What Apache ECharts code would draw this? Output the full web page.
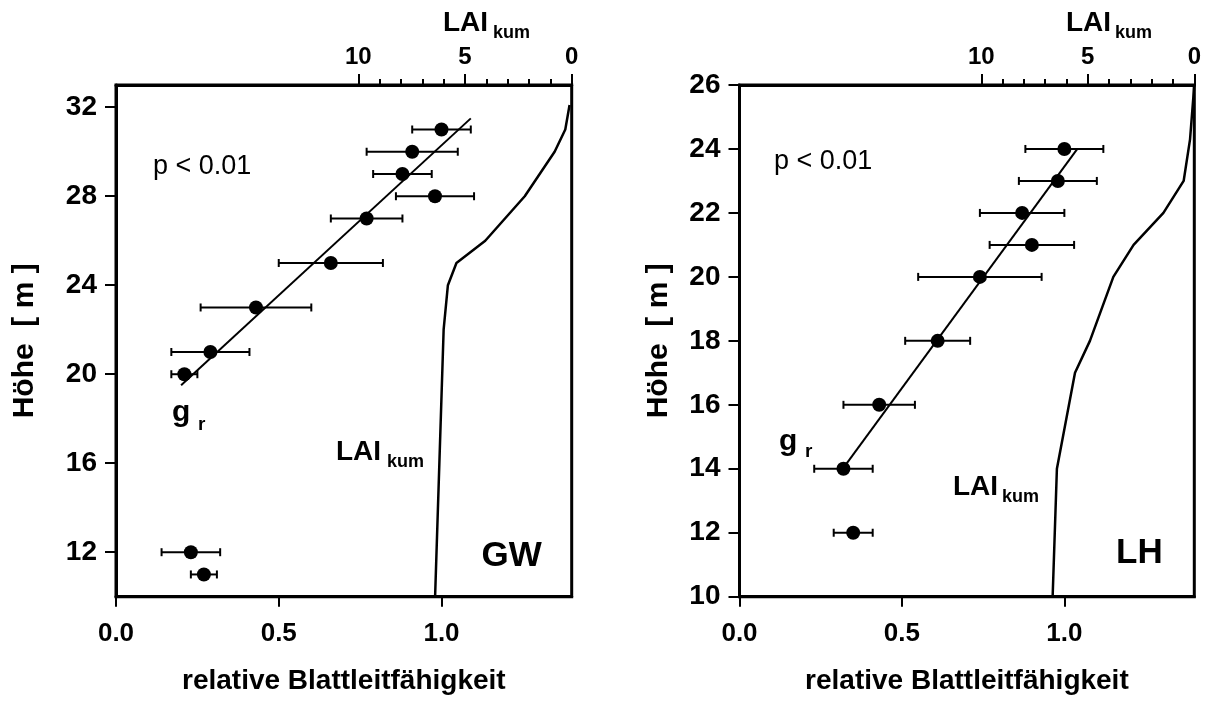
<!DOCTYPE html>
<html><head><meta charset="utf-8">
<script src="https://cdn.jsdelivr.net/npm/echarts@6/dist/echarts.min.js"></script>
<style>html,body{margin:0;padding:0;background:#fff}#c{width:1206px;height:703px}</style>
</head><body><div id="c"></div>
<script>
// ---- Data: panel GW ----
const gwHeight = [31, 30, 29, 28, 27, 25, 23, 21, 20, 12, 11];
const gwMean   = [1.00, 0.91, 0.88, 0.98, 0.77, 0.66, 0.43, 0.29, 0.21, 0.23, 0.27];
const gwLow    = [0.91, 0.77, 0.79, 0.86, 0.66, 0.50, 0.26, 0.17, 0.17, 0.14, 0.23];
const gwHigh   = [1.09, 1.05, 0.97, 1.10, 0.88, 0.82, 0.60, 0.41, 0.25, 0.32, 0.31];
const gwFitX   = [0.20, 1.09];
const gwFitY   = [19.5, 31.5];
const gwLaiHeight = [32.1, 31, 30, 28, 26, 25, 24, 22, 10];
const gwLai       = [0.1, 0.3, 0.8, 2.2, 4.05, 5.4, 5.8, 6.0, 6.4];

// ---- Data: panel LH ----
const lhHeight = [24, 23, 22, 21, 20, 18, 16, 14, 12];
const lhMean   = [1.00, 0.98, 0.87, 0.90, 0.74, 0.61, 0.43, 0.32, 0.35];
const lhLow    = [0.88, 0.86, 0.74, 0.77, 0.55, 0.51, 0.32, 0.23, 0.29];
const lhHigh   = [1.12, 1.10, 1.00, 1.03, 0.93, 0.71, 0.54, 0.41, 0.41];
const lhFitX   = [0.325, 1.04];
const lhFitY   = [14.1, 24.0];
const lhLaiHeight = [26, 24.3, 23, 22, 21, 20, 18, 17, 14, 10];
const lhLai       = [0, 0.2, 0.5, 1.45, 2.85, 3.8, 4.9, 5.6, 6.45, 6.65];

// ---- Tick labels ----
const relTicks = [0, 0.5, 1.0];
const laiMajorTicks = [0, 5, 10];
const laiMinorTicks = [1, 2, 3, 4, 6, 7, 8, 9];
const gwHeightTicks = [12, 16, 20, 24, 28, 32];
const lhHeightTicks = [10, 12, 14, 16, 18, 20, 22, 24, 26];

const FF = "'Liberation Sans', Arial, Helvetica, sans-serif";
const BLACK = '#000';

const pair = (xs, ys) => xs.map((x, i) => [x, ys[i]]);

function errSeries(xi, yi, h, lo, hi) {
  return {
    type: 'custom', xAxisIndex: xi, yAxisIndex: yi, silent: true, z: 3,
    data: h.map((v, i) => [lo[i], hi[i], v]),
    encode: { x: [0, 1], y: 2 },
    renderItem(params, api) {
      const a = api.coord([api.value(0), api.value(2)]);
      const b = api.coord([api.value(1), api.value(2)]);
      const c = 4;
      const st = { stroke: BLACK, lineWidth: 2 };
      return { type: 'group', children: [
        { type: 'line', shape: { x1: a[0], y1: a[1], x2: b[0], y2: b[1] }, style: st },
        { type: 'line', shape: { x1: a[0], y1: a[1] - c, x2: a[0], y2: a[1] + c }, style: st },
        { type: 'line', shape: { x1: b[0], y1: b[1] - c, x2: b[0], y2: b[1] + c }, style: st }
      ]};
    }
  };
}

const axisLine = { show: true, onZero: false, lineStyle: { color: BLACK, width: 3 } };

function relAxis(gi) {
  return {
    type: 'value', gridIndex: gi, position: 'bottom', min: 0, max: 1.4,
    axisLine: axisLine,
    axisTick: { show: true, inside: false, length: 10, customValues: relTicks, lineStyle: { color: BLACK, width: 2 } },
    axisLabel: { customValues: relTicks, margin: 24, color: BLACK, fontFamily: FF, fontWeight: 'bold', fontSize: 26,
      formatter: v => v.toFixed(1) },
    splitLine: { show: false },
    name: 'relative Blattleitfähigkeit', nameLocation: 'middle', nameGap: 71,
    nameTextStyle: { color: BLACK, fontFamily: FF, fontWeight: 'bold', fontSize: 28 }
  };
}
function laiAxis(gi) {
  return {
    type: 'value', gridIndex: gi, position: 'top', min: 0, max: 21.35, inverse: true,
    axisLine: axisLine,
    axisTick: { show: true, length: 11, customValues: laiMajorTicks, lineStyle: { color: BLACK, width: 2 } },
    axisLabel: { customValues: laiMajorTicks, margin: 16, color: BLACK, fontFamily: FF, fontWeight: 'bold', fontSize: 24 },
    splitLine: { show: false }
  };
}
function laiMinorAxis(gi) {
  return {
    type: 'value', gridIndex: gi, position: 'top', min: 0, max: 21.35, inverse: true,
    axisLine: { show: false, onZero: false },
    axisTick: { show: true, length: 6, customValues: laiMinorTicks, lineStyle: { color: BLACK, width: 2 } },
    axisLabel: { show: false }, splitLine: { show: false }
  };
}
function heightAxis(gi, min, max, ticks, gap) {
  return {
    type: 'value', gridIndex: gi, position: 'left', min: min, max: max,
    axisLine: axisLine,
    axisTick: { show: true, length: 11, customValues: ticks, lineStyle: { color: BLACK, width: 2 } },
    axisLabel: { customValues: ticks, margin: 19, color: BLACK, fontFamily: FF, fontWeight: 'bold', fontSize: 28 },
    splitLine: { show: false },
    name: 'Höhe  [ m ]', nameLocation: 'middle', nameGap: gap,
    nameTextStyle: { color: BLACK, fontFamily: FF, fontWeight: 'bold', fontSize: 30 }
  };
}
function hiddenY(gi) {
  return { type: 'value', gridIndex: gi, min: 0, max: 1, show: false };
}

const G0 = { left: 116, top: 85, width: 455.7, height: 511.7 };
const G1 = { left: 739.5, top: 85, width: 454.8, height: 511.7 };
const border = { show: true, borderColor: BLACK, borderWidth: 3, backgroundColor: 'transparent' };

function txt(x, y, s, size, weight) {
  return { type: 'text', x: x, y: y, silent: true, z: 100,
    style: { text: s, fill: BLACK, font: (weight || 'bold') + ' ' + size + 'px ' + FF, verticalAlign: 'middle', align: 'left' } };
}

const dotStyle = { color: BLACK, opacity: 1 };

const option = {
  backgroundColor: '#fff',
  animation: false,
  grid: [
    Object.assign({}, G0, border),
    Object.assign({}, G1, border),
    Object.assign({}, G0, { show: false }),
    Object.assign({}, G1, { show: false })
  ],
  xAxis: [relAxis(0), laiAxis(0), relAxis(1), laiAxis(1), laiMinorAxis(2), laiMinorAxis(3)],
  yAxis: [
    heightAxis(0, 10, 33, gwHeightTicks, 76),
    heightAxis(1, 10, 26, lhHeightTicks, 66),
    hiddenY(2), hiddenY(3)
  ],
  series: [
    errSeries(0, 0, gwHeight, gwLow, gwHigh),
    { type: 'scatter', xAxisIndex: 0, yAxisIndex: 0, symbolSize: 14, itemStyle: dotStyle, z: 4,
      data: pair(gwMean, gwHeight) },
    { type: 'line', xAxisIndex: 0, yAxisIndex: 0, showSymbol: false, lineStyle: { color: BLACK, width: 2 },
      data: pair(gwFitX, gwFitY) },
    { type: 'line', xAxisIndex: 1, yAxisIndex: 0, showSymbol: false, lineStyle: { color: BLACK, width: 2.5 },
      data: pair(gwLai, gwLaiHeight) },

    errSeries(2, 1, lhHeight, lhLow, lhHigh),
    { type: 'scatter', xAxisIndex: 2, yAxisIndex: 1, symbolSize: 14, itemStyle: dotStyle, z: 4,
      data: pair(lhMean, lhHeight) },
    { type: 'line', xAxisIndex: 2, yAxisIndex: 1, showSymbol: false, lineStyle: { color: BLACK, width: 2 },
      data: pair(lhFitX, lhFitY) },
    { type: 'line', xAxisIndex: 3, yAxisIndex: 1, showSymbol: false, lineStyle: { color: BLACK, width: 2.5 },
      data: pair(lhLai, lhLaiHeight) }
  ],
  graphic: [
    // left panel
    txt(443, 23.5, 'LAI', 28), txt(493, 33, 'kum', 18),
    txt(153, 166.7, 'p < 0.01', 27, 'normal'),
    txt(172, 413, 'g', 30), txt(198, 425, 'r', 19),
    txt(336, 452, 'LAI', 28), txt(387, 462, 'kum', 18),
    txt(481.5, 556, 'GW', 35),
    // right panel
    txt(1066, 23.5, 'LAI', 28), txt(1115, 33, 'kum', 18),
    txt(774, 161.3, 'p < 0.01', 27, 'normal'),
    txt(779, 441.3, 'g', 30), txt(805, 451.7, 'r', 19),
    txt(953, 487, 'LAI', 28), txt(1002, 497, 'kum', 18),
    txt(1116, 553, 'LH', 35)
  ]
};

const chart = echarts.init(document.getElementById('c'), null, { renderer: 'canvas' });
chart.setOption(option);
</script>
</body></html>
